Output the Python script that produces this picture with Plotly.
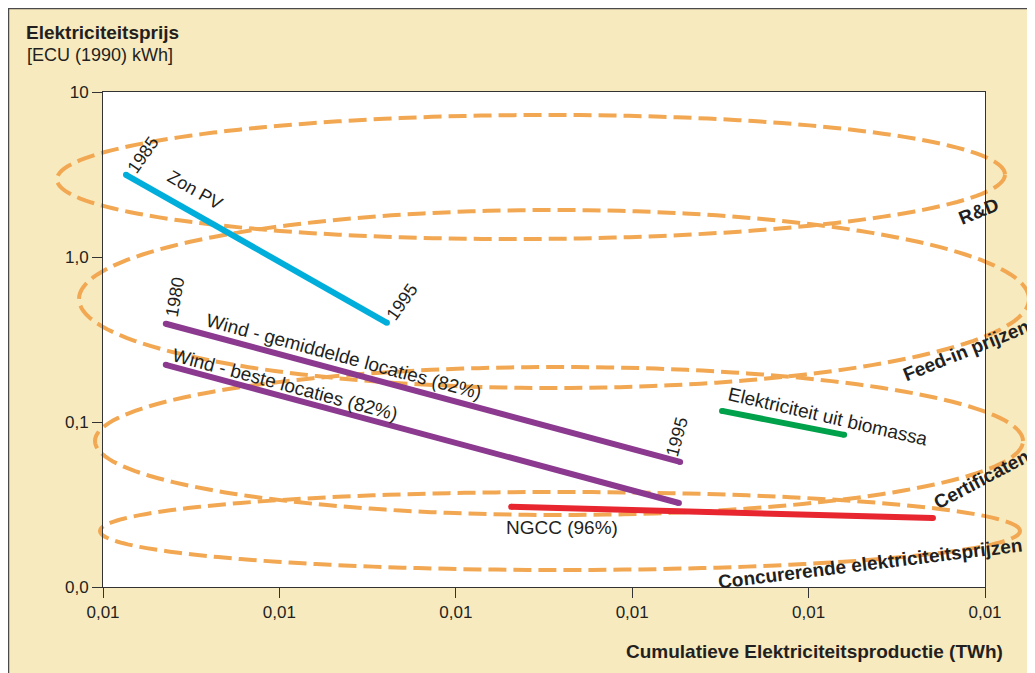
import numpy as np
import plotly.graph_objects as go

# ---------------- data ----------------
zon_pv_x = [0.0135, 0.407]
zon_pv_y = [3.15, 0.399]

wind_gem_x = [0.0227, 18.7]
wind_gem_y = [0.394, 0.0573]

wind_best_x = [0.0227, 18.4]
wind_best_y = [0.222, 0.0323]

ngcc_x = [2.06, 507]
ngcc_y = [0.0306, 0.0262]

biomassa_x = [32.3, 159]
biomassa_y = [0.1167, 0.0836]

y_tickvals = [0.01, 0.1, 1, 10]
y_ticktext = ["0,0", "0,1", "1,0", "10"]
x_tickvals = [0.01, 0.1, 1, 10, 100, 1000]
x_ticktext = ["0,01", "0,01", "0,01", "0,01", "0,01", "0,01"]

# ---------------- style ----------------
W, H = 1035, 673
OFF = 8  # page offset of the figure (body margin)
L, R, T, B = 103 - OFF, 985 - OFF, 92 - OFF, 587 - OFF
BEIGE = "#F8EABF"
TXT = "#231F20"
ORANGE = "#F2A852"
CYAN = "#00AEDB"
PURPLE = "#8B3A8F"
RED = "#E8262F"
GREEN = "#00A14B"
FONT = "Liberation Sans, Arial, sans-serif"


def px(x):
    # page pixel -> paper
    return (x - OFF - L) / (R - L)


def py(y):
    return (B - (y - OFF)) / (B - T)


fig = go.Figure()


def add_line(xs, ys, color):
    fig.add_trace(go.Scatter(
        x=xs, y=ys, mode="lines+markers",
        line=dict(color=color, width=6),
        marker=dict(color=color, size=6, line=dict(width=0)),
        hoverinfo="skip", showlegend=False, cliponaxis=False))


add_line(zon_pv_x, zon_pv_y, CYAN)
add_line(wind_gem_x, wind_gem_y, PURPLE)
add_line(wind_best_x, wind_best_y, PURPLE)
add_line(ngcc_x, ngcc_y, RED)
add_line(biomassa_x, biomassa_y, GREEN)

# ---------------- ellipses (policy zones) ----------------
ellipses = [
    (531, 177, 474, 62, 0.3),
    (554, 299, 475, 89, 0.0),
    (559, 441, 464, 74, 0.0),
    (560, 531, 460, 39, 0.0),
]
shapes = []
for cx, cy, a, b, rot in ellipses:
    th = np.radians(rot)
    t = np.linspace(0, 2 * np.pi, 181)
    u, v = a * np.cos(t), b * np.sin(t)
    xx = cx + u * np.cos(th) - v * np.sin(th)
    yy = cy - (u * np.sin(th) + v * np.cos(th))
    path = "M " + " L ".join(f"{px(X):.5f},{py(Y):.5f}" for X, Y in zip(xx, yy)) + " Z"
    shapes.append(dict(type="path", path=path, xref="paper", yref="paper",
                       line=dict(color=ORANGE, width=4, dash="18px,7px"),
                       layer="below"))

# frame around the figure
shapes.append(dict(type="rect", xref="paper", yref="paper",
                   x0=px(8.5), x1=px(1080), y0=py(720), y1=py(8.5),
                   line=dict(color="#4a4a4a", width=1.5), layer="below"))

# ---------------- annotations ----------------
ann = []


def label(text, x, y, angle=0, size=19, bold=False, xanchor="center"):
    t = f"<b>{text}</b>" if bold else text
    ann.append(dict(text=t, x=px(x), y=py(y), xref="paper", yref="paper",
                    showarrow=False, textangle=angle, xanchor=xanchor, yanchor="middle",
                    font=dict(family=FONT, size=size, color=TXT)))


label("1985", 143, 155, -55, 18)
label("Zon PV", 195, 190, 30, 18)
label("1995", 402, 302, -55, 18)
label("1980", 175, 297, -80, 18)
label("Wind - gemiddelde locaties (82%)", 344, 356, 15)
label("Wind - beste locaties (82%)", 285, 384, 15)
label("1995", 677, 437, -75, 18)
label("Elektriciteit uit biomassa", 828, 416, 13)
label("NGCC (96%)", 562, 527, 0)
label("R&D", 978, 211, -22, 19, True)
label("Feed-in prijzen", 966, 350, -22, 19, True)
label("Certificaten", 981, 479, -28, 19, True)
label("Concurerende elektriciteitsprijzen", 870, 563, -7, 19, True)

label("Elektriciteitsprijs", 24, 32, 0, 19, True, "left")
label("[ECU (1990) kWh]", 25, 55, 0, 18, False, "left")
ann.append(dict(text="<b>Cumulatieve Elektriciteitsproductie (TWh)</b>",
                x=px(1005), y=py(651), xref="paper", yref="paper",
                showarrow=False, xanchor="right", yanchor="middle",
                font=dict(family=FONT, size=19, color=TXT)))

fig.update_layout(
    width=W, height=H,
    margin=dict(l=L, r=W - R, t=T, b=H - B),
    paper_bgcolor=BEIGE, plot_bgcolor="white",
    shapes=shapes, annotations=ann, showlegend=False,
    xaxis=dict(type="log", range=[-2, 3], tickvals=x_tickvals, ticktext=x_ticktext,
               ticks="outside", ticklen=10, tickcolor="#333333", tickwidth=1,
               showgrid=False, zeroline=False, showline=True, linecolor="#333333",
               linewidth=1, mirror=True,
               tickfont=dict(family=FONT, size=17, color=TXT)),
    yaxis=dict(type="log", range=[-2, 1], tickvals=y_tickvals, ticktext=y_ticktext,
               ticks="outside", ticklen=10, tickcolor="#333333", tickwidth=1,
               showgrid=False, zeroline=False, showline=True, linecolor="#333333",
               linewidth=1, mirror=True,
               tickfont=dict(family=FONT, size=17, color=TXT)),
)

fig.write_html("out.html",
               post_script="document.documentElement.style.overflow='hidden';"
                           "document.body.style.overflow='hidden';")
